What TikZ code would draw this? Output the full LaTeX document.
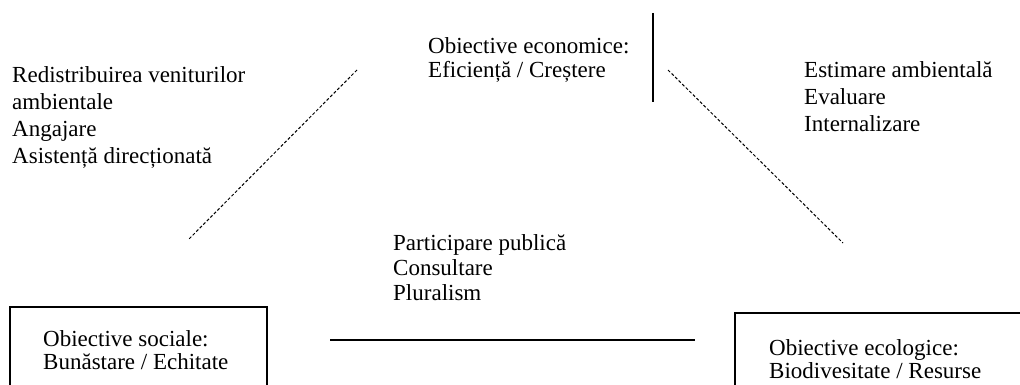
\documentclass[tikz,border=0pt]{standalone}
\usepackage{fontspec}
\setmainfont{Liberation Serif}
\begin{document}
\begin{tikzpicture}[x=1pt,y=-1pt,
  txt/.style={anchor=north west,inner sep=0pt,align=left},
  fa/.style={font=\fontsize{23}{24.5}\selectfont},
  fb/.style={font=\fontsize{23}{27}\selectfont},
  fc/.style={font=\fontsize{23}{25}\selectfont},
  fd/.style={font=\fontsize{23}{23.5}\selectfont},
  objbox/.style={draw,line width=1.4pt},
  solidline/.style={line width=1.6pt},
  dashline/.style={line width=1pt,dash pattern=on 3pt off 2pt}]
\useasboundingbox (0,0) rectangle (1020,385);
% top: economic objectives
\node[txt,fa] (econ) at (428,37) {Obiective economice:\\Eficiență / Creștere};
\coordinate (vtop) at (653,13);
\coordinate (vbot) at (653,102);
\draw[solidline] (vtop) -- (vbot);
% left labels
\node[txt,fb] (social) at (12,66) {Redistribuirea veniturilor\\ambientale\\Angajare\\Asistență direcționată};
% right labels
\node[txt,fb] (ecolab) at (804,61) {Estimare ambientală\\Evaluare\\Internalizare};
% middle labels
\node[txt,fc] (part) at (393,234) {Participare publică\\Consultare\\Pluralism};
% boxes
\draw[objbox] (10,400) |- (267,307) -- (267,400);
\node[txt,fd] (soc) at (43,330) {Obiective sociale:\\Bunăstare / Echitate};
\draw[objbox] (735,400) |- (1030,313);
\node[txt,fd] (eco) at (769,339) {Obiective ecologice:\\Biodivesitate / Resurse};
% connectors
\coordinate (la) at (357,70);
\coordinate (lb) at (188,240);
\coordinate (ra) at (668,70);
\coordinate (rb) at (843,243);
\coordinate (ha) at (330,340);
\coordinate (hb) at (695,340);
\draw[dashline] (la) -- (lb);
\draw[dashline] (ra) -- (rb);
\draw[solidline] (ha) -- (hb);
\end{tikzpicture}
\end{document}
